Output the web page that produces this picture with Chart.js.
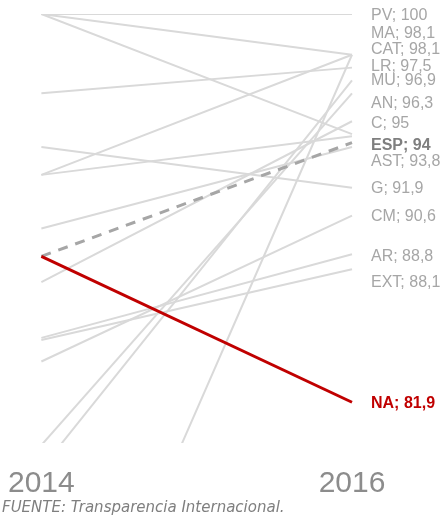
<!DOCTYPE html>
<html><head><meta charset="utf-8">
<script src="https://cdn.jsdelivr.net/npm/chart.js@4"></script>
<style>html,body{margin:0;padding:0;background:#fff}</style>
</head><body>
<canvas id="c" width="446" height="517"></canvas>
<script>
const years = ['2014', '2016'];
const regions = ['NA', 'ESP', 'PV', 'MA', 'CAT', 'LR', 'MU', 'AN', 'C', 'AST', 'G', 'CM', 'AR', 'EXT', '', '', ''];
const values2014 = [88.7, 88.7, 100, 100, 65.0, 96.3, 78.8, 79.9, 87.5, 90.0, 93.8, 83.8, 84.9, 84.8, 92.5, 100, 92.5];
const values2016 = [81.9, 94, 100, 98.1, 98.1, 97.5, 96.9, 96.3, 95, 93.8, 91.9, 90.6, 88.8, 88.1, 98.1, 94.4, 94.3];
const source = 'FUENTE: Transparencia Internacional.';

const endLabels = {
  id: 'endLabels',
  afterDatasetsDraw(chart, args, opts) {
    const {ctx, scales: {x, y}} = chart;
    const px = x.getPixelForValue(years.length - 1) + opts.gap;
    ctx.save();
    ctx.textBaseline = 'middle';
    ctx.textAlign = 'left';
    chart.data.datasets.forEach(ds => {
      if (!ds.label) return;
      const v = ds.data[ds.data.length - 1];
      const py = y.getPixelForValue(v) + (opts.nudge[ds.label] || 0);
      const strong = ds.label === 'NA' || ds.label === 'ESP';
      ctx.font = (strong ? 'bold ' : '') + opts.size + 'px ' + opts.family;
      ctx.fillStyle = ds.label === 'NA' ? '#c00000' : (ds.label === 'ESP' ? '#7f7f7f' : '#a6a6a6');
      ctx.fillText(ds.label + '; ' + String(v).replace('.', ','), px, py);
    });
    ctx.restore();
  }
};

new Chart(document.getElementById('c'), {
  type: 'line',
  data: {
    labels: years,
    datasets: regions.map((r, i) => ({
      label: r,
      data: [values2014[i], values2016[i]],
      borderColor: r === 'NA' ? '#c00000' : (r === 'ESP' ? '#a6a6a6' : '#d9d9d9'),
      borderWidth: (r === 'NA' || r === 'ESP') ? 3 : 2,
      borderDash: r === 'ESP' ? [10, 8] : [],
      pointRadius: 0,
      tension: 0,
      fill: false,
      order: r === 'NA' ? 0 : (r === 'ESP' ? 1 : 2)
    }))
  },
  options: {
    responsive: false,
    animation: false,
    devicePixelRatio: 1,
    layout: {padding: {top: 14, left: 2, right: 94, bottom: 0}},
    scales: {
      x: {
        type: 'category', offset: false,
        grid: {display: false, drawTicks: false}, border: {display: false},
        ticks: {font: {family: 'Liberation Sans', size: 30, lineHeight: 2.2}, color: '#8c8c8c', padding: 8, maxRotation: 0},
        afterFit(s) { s.height = 52; }
      },
      y: {
        min: 80, max: 100,
        grid: {display: false, drawTicks: false}, border: {display: false},
        ticks: {display: false},
        afterFit(s) { s.width = 39; }
      }
    },
    plugins: {
      legend: {display: false},
      tooltip: {enabled: false},
      subtitle: {
        display: true, text: source, position: 'bottom', align: 'start',
        font: {family: 'DejaVu Sans', size: 15, style: 'italic', weight: 'normal', lineHeight: 1.2},
        color: '#7f7f7f', padding: {top: 4, bottom: 0}
      },
      endLabels: {
        gap: 19, size: 16, family: 'Liberation Sans',
        nudge: {PV: 2, MA: -21, CAT: -5, LR: -1, MU: 0, AN: 10, C: 2, ESP: 3, AST: 15, G: 1, CM: 1, AR: 2, EXT: 13, NA: 1}
      }
    }
  },
  plugins: [endLabels]
});
</script>
</body></html>
